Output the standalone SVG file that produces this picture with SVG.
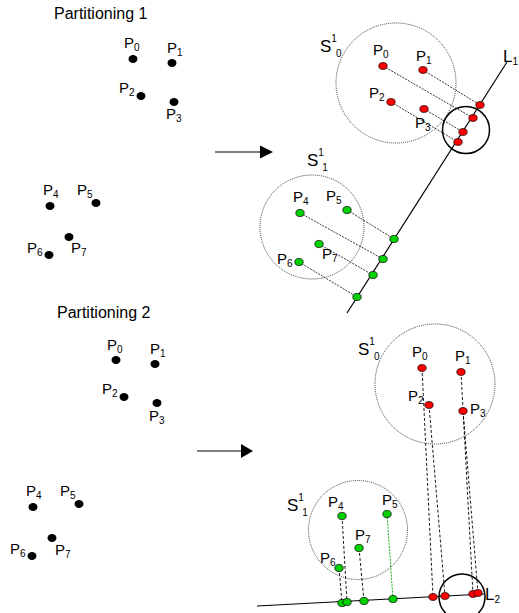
<svg xmlns="http://www.w3.org/2000/svg" width="519" height="613" viewBox="0 0 519 613">
<style>
text{font-family:"Liberation Sans",Arial,sans-serif;fill:#000}
.t{font-size:16px}
.p{font-size:15px}
.s{font-size:17px}
.sb{font-size:10px}
.blk{fill:#000}
.red{fill:#FF0000;stroke:#000;stroke-width:0.7}
.grn{fill:#00D000;stroke:#000;stroke-width:0.7}
.set{fill:none;stroke:#111;stroke-width:0.8;stroke-dasharray:1,1}
.ring{fill:none;stroke:#000;stroke-width:1.5}
.axis{stroke:#000;stroke-width:1.2;fill:none}
.pj1{stroke:#000;stroke-width:0.8;stroke-dasharray:2,1.2;fill:none}
.pj2{stroke:#000;stroke-width:0.9;stroke-dasharray:3,2;fill:none}
.pjg{stroke:#00A000;stroke-width:0.9;stroke-dasharray:2,1.2;fill:none}
.arr{stroke:#000;stroke-width:1.2}
</style>
<defs>
<ellipse id="bd" rx="4.5" ry="4" class="blk"/>
<ellipse id="rd" rx="4.2" ry="3.4" class="red"/>
<ellipse id="gd" rx="4.2" ry="3.6" class="grn"/>
</defs>

<!-- Partitioning 1 -->
<text id="title1" class="t" x="54" y="19">Partitioning 1</text>
<g id="p1-P0"><use href="#bd" x="133" y="59"/><text class="p" x="124" y="48">P<tspan class="sb" dy="3">0</tspan></text></g>
<g id="p1-P1"><use href="#bd" x="172" y="63"/><text class="p" x="167" y="53">P<tspan class="sb" dy="3">1</tspan></text></g>
<g id="p1-P2"><use href="#bd" x="141" y="96"/><text class="p" x="119" y="93">P<tspan class="sb" dy="3">2</tspan></text></g>
<g id="p1-P3"><use href="#bd" x="174" y="102"/><text class="p" x="166" y="119">P<tspan class="sb" dy="3">3</tspan></text></g>
<g id="p1-P4"><use href="#bd" x="50" y="206"/><text class="p" x="43" y="195">P<tspan class="sb" dy="3">4</tspan></text></g>
<g id="p1-P5"><use href="#bd" x="96" y="203"/><text class="p" x="77" y="195">P<tspan class="sb" dy="3">5</tspan></text></g>
<g id="p1-P6"><use href="#bd" x="49" y="255"/><text class="p" x="27" y="253">P<tspan class="sb" dy="3">6</tspan></text></g>
<g id="p1-P7"><use href="#bd" x="69" y="237"/><text class="p" x="71" y="253">P<tspan class="sb" dy="3">7</tspan></text></g>

<!-- Partitioning 2 -->
<text id="title2" class="t" x="57" y="318">Partitioning 2</text>
<g id="p2-P0"><use href="#bd" x="116" y="360"/><text class="p" x="107" y="350">P<tspan class="sb" dy="3">0</tspan></text></g>
<g id="p2-P1"><use href="#bd" x="155" y="364"/><text class="p" x="150" y="354">P<tspan class="sb" dy="3">1</tspan></text></g>
<g id="p2-P2"><use href="#bd" x="124" y="397"/><text class="p" x="102" y="394">P<tspan class="sb" dy="3">2</tspan></text></g>
<g id="p2-P3"><use href="#bd" x="157" y="403"/><text class="p" x="149" y="421">P<tspan class="sb" dy="3">3</tspan></text></g>
<g id="p2-P4"><use href="#bd" x="33" y="507"/><text class="p" x="26" y="496">P<tspan class="sb" dy="3">4</tspan></text></g>
<g id="p2-P5"><use href="#bd" x="79" y="504"/><text class="p" x="60" y="496">P<tspan class="sb" dy="3">5</tspan></text></g>
<g id="p2-P6"><use href="#bd" x="32" y="556"/><text class="p" x="10" y="554">P<tspan class="sb" dy="3">6</tspan></text></g>
<g id="p2-P7"><use href="#bd" x="52" y="538"/><text class="p" x="55" y="555">P<tspan class="sb" dy="3">7</tspan></text></g>

<!-- Top right: sets and line L1 -->
<g id="r1-S0"><circle class="set" cx="396" cy="83" r="60"/><text class="s" x="320" y="52">S<tspan class="sb" dy="-10">1</tspan><tspan class="sb" dx="-1" dy="15">0</tspan></text></g>
<g id="r1-S1"><circle class="set" cx="312" cy="227" r="52"/><text class="s" x="307" y="166">S<tspan class="sb" dy="-10">1</tspan><tspan class="sb" dx="-1" dy="15">1</tspan></text></g>
<g id="r1-L1"><line class="axis" x1="347" y1="313" x2="507" y2="62"/><circle class="ring" cx="466" cy="130" r="23.5"/><text class="s" x="503" y="62">L<tspan class="sb" dy="3">1</tspan></text></g>

<!-- Bottom right: sets and line L2 -->
<g id="r2-S0"><circle class="set" cx="435" cy="384" r="60"/><text class="s" x="358" y="355">S<tspan class="sb" dy="-10">1</tspan><tspan class="sb" dx="-1" dy="15">0</tspan></text></g>
<g id="r2-S1"><circle class="set" cx="358" cy="530" r="49.5"/><text class="s" x="287" y="511">S<tspan class="sb" dy="-10">1</tspan><tspan class="sb" dx="-1" dy="15">1</tspan></text></g>
<g id="r2-L2"><line class="axis" x1="257" y1="606" x2="484" y2="594"/><circle class="ring" cx="462" cy="597" r="23"/><text class="s" x="485" y="600">L<tspan class="sb" dy="3">2</tspan></text></g>

<!-- Connectors -->
<g id="connectors">
<line class="arr" x1="215" y1="152" x2="262" y2="152"/>
<polygon points="260,145.5 273,152 260,158.5" fill="#000"/>
<line class="arr" x1="197" y1="451" x2="242" y2="451"/>
<polygon points="241,444 253,451 241,458" fill="#000"/>

<line class="pj1" x1="383" y1="66" x2="473" y2="118"/>
<line class="pj1" x1="423" y1="70" x2="480" y2="105"/>
<line class="pj1" x1="391" y1="102" x2="458" y2="142"/>
<line class="pj1" x1="424" y1="109" x2="463" y2="132"/>
<line class="pj1" x1="347" y1="210" x2="394" y2="239"/>
<line class="pj1" x1="300" y1="213" x2="383" y2="259"/>
<line class="pj1" x1="319" y1="244" x2="373" y2="275"/>
<line class="pj1" x1="299" y1="262" x2="357" y2="297"/>

<line class="pj2" x1="422" y1="368" x2="433" y2="597"/>
<line class="pj2" x1="429" y1="405" x2="445" y2="596"/>
<line class="pj2" x1="461" y1="372" x2="473" y2="594"/>
<line class="pj2" x1="463" y1="411" x2="478" y2="593"/>
<line class="pj2" x1="339" y1="568" x2="342" y2="603"/>
<line class="pj2" x1="342" y1="516" x2="347" y2="602"/>
<line class="pj2" x1="359" y1="548" x2="364" y2="601"/>
<line class="pjg" x1="387" y1="514" x2="393" y2="599"/>
</g>

<!-- Projected points, top -->
<g id="r1-P0"><use href="#rd" x="383" y="66"/><use href="#rd" x="473" y="118"/><text class="p" x="373" y="55">P<tspan class="sb" dy="3">0</tspan></text></g>
<g id="r1-P1"><use href="#rd" x="423" y="70"/><use href="#rd" x="480" y="105"/><text class="p" x="416" y="61">P<tspan class="sb" dy="3">1</tspan></text></g>
<g id="r1-P2"><use href="#rd" x="391" y="102"/><use href="#rd" x="458" y="142"/><text class="p" x="369" y="98">P<tspan class="sb" dy="3">2</tspan></text></g>
<g id="r1-P3"><use href="#rd" x="424" y="109"/><use href="#rd" x="463" y="132"/><text class="p" x="415" y="128">P<tspan class="sb" dy="3">3</tspan></text></g>
<g id="r1-P4"><use href="#gd" x="300" y="213"/><use href="#gd" x="383" y="259"/><text class="p" x="293" y="202">P<tspan class="sb" dy="3">4</tspan></text></g>
<g id="r1-P5"><use href="#gd" x="347" y="210"/><use href="#gd" x="394" y="239"/><text class="p" x="326" y="201">P<tspan class="sb" dy="3">5</tspan></text></g>
<g id="r1-P6"><use href="#gd" x="299" y="262"/><use href="#gd" x="357" y="297"/><text class="p" x="277" y="264">P<tspan class="sb" dy="3">6</tspan></text></g>
<g id="r1-P7"><use href="#gd" x="319" y="244"/><use href="#gd" x="373" y="275"/><text class="p" x="322" y="259">P<tspan class="sb" dy="3">7</tspan></text></g>

<!-- Projected points, bottom -->
<g id="r2-P0"><use href="#rd" x="422" y="368"/><use href="#rd" x="433" y="597"/><text class="p" x="412" y="357">P<tspan class="sb" dy="3">0</tspan></text></g>
<g id="r2-P1"><use href="#rd" x="461" y="372"/><use href="#rd" x="473" y="594"/><text class="p" x="455" y="361">P<tspan class="sb" dy="3">1</tspan></text></g>
<g id="r2-P2"><use href="#rd" x="429" y="405"/><use href="#rd" x="445" y="596"/><text class="p" x="408" y="401">P<tspan class="sb" dy="3">2</tspan></text></g>
<g id="r2-P3"><use href="#rd" x="463" y="411"/><use href="#rd" x="478" y="593"/><text class="p" x="470" y="414">P<tspan class="sb" dy="3">3</tspan></text></g>
<g id="r2-P6"><use href="#gd" x="339" y="568"/><use href="#gd" x="342" y="603"/><text class="p" x="320" y="563">P<tspan class="sb" dy="3">6</tspan></text></g>
<g id="r2-P4"><use href="#gd" x="342" y="516"/><use href="#gd" x="347" y="602"/><text class="p" x="328" y="507">P<tspan class="sb" dy="3">4</tspan></text></g>
<g id="r2-P7"><use href="#gd" x="359" y="548"/><use href="#gd" x="364" y="601"/><text class="p" x="355" y="540">P<tspan class="sb" dy="3">7</tspan></text></g>
<g id="r2-P5"><use href="#gd" x="387" y="514"/><use href="#gd" x="393" y="599"/><text class="p" x="382" y="505">P<tspan class="sb" dy="3">5</tspan></text></g>
</svg>
